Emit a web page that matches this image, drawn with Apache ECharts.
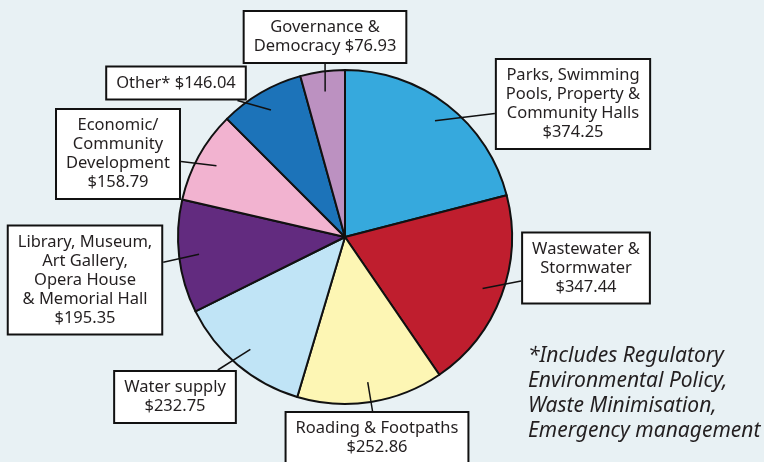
<!DOCTYPE html>
<html>
<head>
<meta charset="utf-8">
<script src="https://cdn.jsdelivr.net/npm/echarts@6/dist/echarts.min.js"></script>
<style>
  html, body { margin: 0; padding: 0; background: #e8f1f4; }
  #chart { width: 764px; height: 462px; }
</style>
</head>
<body>
<div id="chart"></div>
<script>
// slices, clockwise from 12 o'clock
const categories = [
  'Parks, Swimming\nPools, Property &\nCommunity Halls',
  'Wastewater &\nStormwater',
  'Roading & Footpaths',
  'Water supply',
  'Library, Museum,\nArt Gallery,\nOpera House\n& Memorial Hall',
  'Economic/\nCommunity\nDevelopment',
  'Other*',
  'Governance &\nDemocracy'
];
const values = [374.25, 347.44, 252.86, 232.75, 195.35, 158.79, 146.04, 76.93];
const colors = ['#36a9dd', '#bf1e2e', '#fdf6b4', '#c0e4f6', '#622b7f', '#f2b3d0', '#1c73b9', '#bc91c1'];
// these two keep the value on the last text line
const inlineValue = ['Other*', 'Governance &\nDemocracy'];
const footnote = [
  '*Includes Regulatory',
  'Environmental Policy,',
  'Waste Minimisation,',
  'Emergency management'
];

// where each label box sits (centre, px)
const labelBoxes = [[573, 104], [586, 268], [377, 438], [175, 397], [85, 280], [118, 154], [176, 83], [325, 37]];

const centre = [345, 237];
const radius = 167;
const total = values.reduce((s, v) => s + v, 0);

function midAngle(i) {
  let before = 0;
  for (let k = 0; k < i; k++) before += values[k];
  return (before + values[i] / 2) / total * 2 * Math.PI;
}

// leader line: from inside the slice to the edge of the label box
function leader(i, rect) {
  let a = midAngle(i);
  let d = radius * 0.88;
  let p = [centre[0] + d * Math.sin(a), centre[1] - d * Math.cos(a)];
  let c = labelBoxes[i];
  let dx = p[0] - c[0], dy = p[1] - c[1];
  let t = Math.min(rect.width / 2 / Math.abs(dx || 1e-6), rect.height / 2 / Math.abs(dy || 1e-6));
  return [p, [c[0] + dx * t, c[1] + dy * t]];
}

const pieData = categories.map((name, i) => ({ name: name, value: values[i] }));

const chart = echarts.init(document.getElementById('chart'));
const option = {
  backgroundColor: '#e8f1f4',
  animation: false,
  color: colors,
  graphic: [{
    type: 'text',
    left: 528,
    top: 344,
    style: {
      text: footnote.join('\n'),
      font: 'italic 21px "Noto Sans"',
      lineHeight: 25,
      fill: '#231f20'
    }
  }],
  series: [{
    // the slices
    type: 'pie',
    z: 2,
    center: centre,
    radius: radius,
    startAngle: 90,
    clockwise: true,
    silent: true,
    emphasis: { disabled: true },
    itemStyle: { borderColor: '#111', borderWidth: 2 },
    label: { show: false },
    labelLine: { show: false },
    data: pieData
  }, {
    // same pie, see-through, only carries the boxed labels so the leader lines sit on top
    type: 'pie',
    z: 3,
    center: centre,
    radius: radius,
    startAngle: 90,
    clockwise: true,
    silent: true,
    avoidLabelOverlap: false,
    emphasis: { disabled: true },
    itemStyle: { color: 'rgba(0,0,0,0)', borderWidth: 0 },
    label: {
      show: true,
      position: 'outside',
      formatter: p => p.name + (inlineValue.includes(p.name) ? ' ' : '\n') + '$' + p.value.toFixed(2),
      fontFamily: 'Noto Sans',
      fontSize: 16.5,
      lineHeight: 19,
      color: '#231f20',
      align: 'center',
      backgroundColor: '#fff',
      borderColor: '#111',
      borderWidth: 2,
      padding: [6, 9]
    },
    labelLine: { show: true, lineStyle: { color: '#111', width: 1.5 } },
    labelLayout: params => {
      let i = params.dataIndex;
      return {
        x: labelBoxes[i][0],
        y: labelBoxes[i][1],
        align: 'center',
        verticalAlign: 'middle',
        labelLinePoints: leader(i, params.labelRect)
      };
    },
    data: pieData
  }]
};
chart.setOption(option);
</script>
</body>
</html>
